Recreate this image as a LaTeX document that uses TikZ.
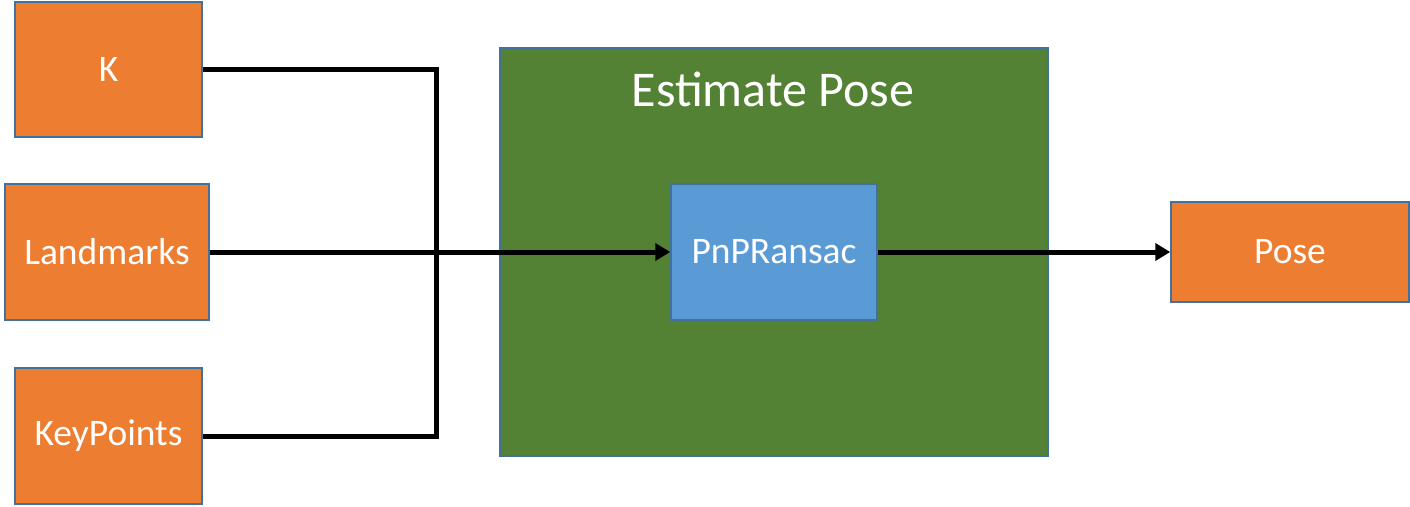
\documentclass[tikz,border=0pt]{standalone}
\usepackage{fontspec}
\setmainfont{Carlito}
\usetikzlibrary{arrows.meta}
\definecolor{boxorange}{HTML}{ED7D31}
\definecolor{boxblue}{HTML}{5B9BD5}
\definecolor{boxgreen}{HTML}{548235}
\definecolor{edgeblue}{HTML}{41719C}
\begin{document}
\begin{tikzpicture}[x=1pt, y=-1pt,
    iobox/.style={rectangle, draw=edgeblue, line width=1.5pt, fill=boxorange, text=white, inner sep=0pt, font=\fontsize{37.5}{45}\selectfont},
    stagebox/.style={rectangle, draw=edgeblue, line width=1.5pt, fill=boxgreen, inner sep=0pt},
    opbox/.style={rectangle, draw=edgeblue, line width=1.5pt, fill=boxblue, text=white, inner sep=0pt, font=\fontsize{37.5}{45}\selectfont},
    wire/.style={line width=5pt, black},
    flow/.style={wire, -{Triangle[length=15pt, width=17pt]}}]
    \useasboundingbox (0,0) rectangle (1410,506);

    %inputs
    \node[iobox, minimum width=187pt, minimum height=135pt] (K) at (108.5,69.5) {K};
    \node[iobox, minimum width=204pt, minimum height=136pt] (landmarks) at (107,252) {Landmarks};
    \node[iobox, minimum width=187pt, minimum height=136pt] (keypoints) at (108.5,436) {KeyPoints};

    %estimate pose block
    \node[stagebox, minimum width=548pt, minimum height=408pt] (estimate) at (774,252) {};
    \node[text=white, font=\fontsize{50}{60}\selectfont] (title) at (773,89) {Estimate Pose};
    \node[opbox, minimum width=206pt, minimum height=136pt] (pnp) at (774,252) {PnPRansac};

    %output
    \node[iobox, minimum width=238pt, minimum height=100pt] (pose) at (1290,252) {Pose};

    %wires
    \coordinate (bus) at (436,436);
    \draw[wire] (K.east) -| (bus) -- (keypoints.east);
    \draw[flow] (landmarks.east) -- (pnp.west);
    \draw[flow] (pnp.east) -- (pose.west);
\end{tikzpicture}
\end{document}
